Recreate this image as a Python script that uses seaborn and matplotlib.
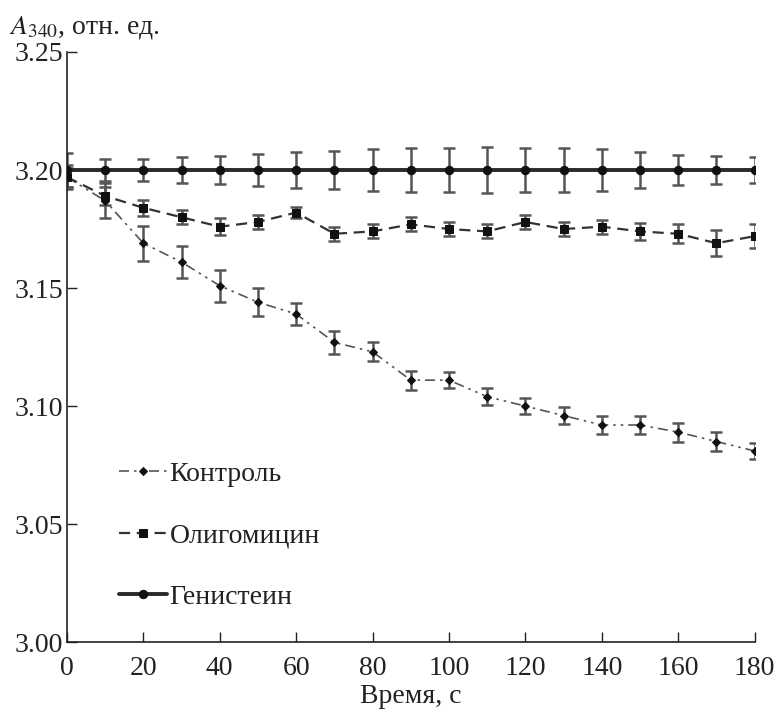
import numpy as np
import pandas as pd
import matplotlib
matplotlib.use("Agg")
import matplotlib.pyplot as plt
import seaborn as sns

# time points, s
time_s = [0, 10, 20, 30, 40, 50, 60, 70, 80, 90, 100, 110, 120, 130, 140, 150, 160, 170, 180]

control = [3.197, 3.187, 3.169, 3.161, 3.151, 3.144, 3.139, 3.127, 3.123, 3.111, 3.111,
           3.104, 3.100, 3.096, 3.092, 3.092, 3.089, 3.085, 3.081]
control_err = [0.005, 0.0074, 0.0075, 0.0067, 0.0067, 0.006, 0.0046, 0.005, 0.004, 0.004, 0.0035,
               0.0035, 0.0035, 0.0035, 0.004, 0.004, 0.004, 0.004, 0.0035]

oligomycin = [3.197, 3.189, 3.184, 3.180, 3.176, 3.178, 3.182, 3.173, 3.174, 3.177, 3.175,
              3.174, 3.178, 3.175, 3.176, 3.174, 3.173, 3.169, 3.172]
oligo_err = [0.004, 0.004, 0.0034, 0.003, 0.0035, 0.003, 0.0025, 0.003, 0.003, 0.003, 0.003,
             0.003, 0.003, 0.003, 0.003, 0.0035, 0.004, 0.0054, 0.005]

genistein = [3.200] * 19
genistein_err = [0.007, 0.0045, 0.0046, 0.0055, 0.006, 0.0068, 0.0075, 0.008, 0.0088, 0.0093,
                 0.0095, 0.0097, 0.0095, 0.0095, 0.0088, 0.0078, 0.0062, 0.006, 0.0054]

labels = ["Контроль", "Олигомицин", "Генистеин"]

sns.set_theme(style="ticks")
plt.rcParams['font.family'] = ['Liberation Serif', 'DejaVu Serif']
plt.rcParams['mathtext.fontset'] = 'stix'

fig = plt.figure(figsize=(7.78, 7.12), dpi=100)
ax = fig.add_axes([0.086, 0.098, 0.884, 0.829])

series = [
    (control, control_err, labels[0], 'D', (0, (6, 3, 1.5, 3, 1.5, 3)), 1.2, 4, '#555555'),
    (oligomycin, oligo_err, labels[1], 's', (0, (5, 3)), 1.6, 6, '#333333'),
    (genistein, genistein_err, labels[2], 'o', '-', 2.8, 6, '#2a2a2a'),
]

for vals, errs, lab, mk, ls, lw, ms, col in series:
    ax.errorbar(time_s, vals, yerr=errs, fmt='none', ecolor='#555555',
                elinewidth=1.8, capsize=4, capthick=1.8, zorder=2)
    sns.lineplot(x=time_s, y=vals, ax=ax, color=col, marker=mk, markersize=ms,
                 linestyle=ls, linewidth=lw, markeredgecolor='#111111',
                 markerfacecolor='#111111', label=lab, zorder=3)

ax.set_xlim(0, 180)
ax.set_ylim(3.00, 3.25)
ax.set_xticks(range(0, 181, 20))
ax.set_yticks([3.00, 3.05, 3.10, 3.15, 3.20, 3.25])
ax.set_yticklabels(["3.00", "3.05", "3.10", "3.15", "3.20", "3.25"])
ax.tick_params(direction='in', length=7, width=1, labelsize=20, colors='#222222', pad=10)
ax.tick_params(axis='y', pad=3)
for s in ['top', 'right']:
    ax.spines[s].set_visible(False)
for s in ['left', 'bottom']:
    ax.spines[s].set_color('#222222')
    ax.spines[s].set_linewidth(1.2)

ax.set_xlabel("Время, с", fontsize=20, color='#222222', labelpad=2)
ax.set_ylabel("")
fig.text(0.012, 0.962, r"$A_{340}$, отн. ед.", fontsize=20, color='#222222', va='center')

leg = ax.legend(loc='lower left', bbox_to_anchor=(0.04, 0.012), frameon=False,
                fontsize=20, handlelength=1.7, handletextpad=0.1, labelspacing=1.3)
for t in leg.get_texts():
    t.set_color('#222222')

fig.savefig("out.png", dpi=100)
